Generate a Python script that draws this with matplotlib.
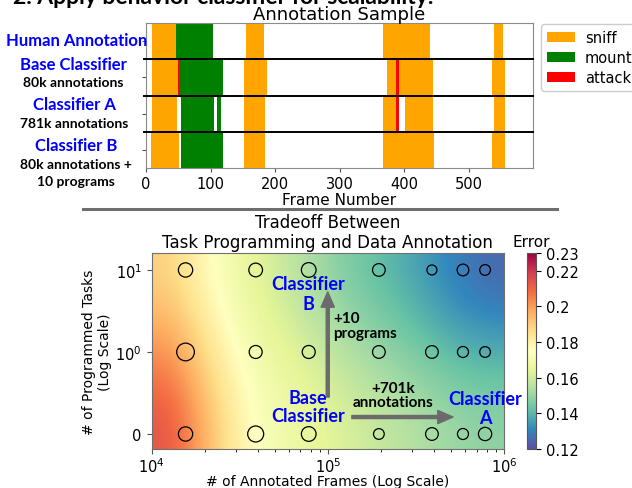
import numpy as np
import matplotlib
matplotlib.use('Agg')
import matplotlib.pyplot as plt
from matplotlib.patches import Patch
from matplotlib.lines import Line2D
from matplotlib.ticker import FormatStrFormatter, NullLocator, FixedLocator

W, H, DPI = 632, 489, 100

# ---- annotation sample: (start frame, end frame, behavior) per row ----
human_segs = [(10, 47, 'sniff'), (47, 104, 'mount'), (155, 183, 'sniff'),
              (367, 440, 'sniff'), (540, 553, 'sniff')]
base_segs = [(9, 49, 'sniff'), (49, 52, 'attack'), (52, 119, 'mount'),
             (152, 187, 'sniff'), (374, 388, 'sniff'), (388, 393, 'attack'),
             (393, 445, 'sniff'), (536, 557, 'sniff')]
clf_a_segs = [(9, 48, 'sniff'), (54, 105, 'mount'), (110, 116, 'mount'),
              (152, 185, 'sniff'), (368, 387, 'sniff'), (387, 392, 'attack'),
              (401, 445, 'sniff'), (540, 556, 'sniff')]
clf_b_segs = [(8, 51, 'sniff'), (55, 120, 'mount'), (152, 185, 'sniff'),
              (368, 446, 'sniff'), (537, 556, 'sniff')]
behaviors = ['sniff', 'mount', 'attack']
behavior_colors = {'sniff': 'orange', 'mount': 'green', 'attack': 'red'}

# ---- tradeoff: runs at (annotated frames, programmed tasks) ----
n_frames = [15600, 39000, 78000, 195000, 390000, 585000, 781000]
n_programs = [10, 1, 0]
# relative spread of each run (circle size), rows follow n_programs
run_spread = [[14.3, 13.7, 14.7, 12.7, 10.0, 11.7, 10.7],
              [17.7, 13.0, 13.0, 12.7, 12.7, 11.0, 10.7],
              [14.3, 16.0, 14.7, 10.7, 12.7, 11.0, 13.3]]
# error surface, columns at log10(frames) = 4.1, 4.3, ..., 5.9 ; rows top->bottom
error_surface = [[.189, .177, .167, .160, .153, .146, .141, .136, .130, .125],
                 [.202, .187, .173, .166, .161, .155, .150, .145, .140, .138],
                 [.214, .196, .179, .170, .166, .162, .158, .155, .151, .149]]
err_ticks = [0.12, 0.14, 0.16, 0.18, 0.2, 0.22, 0.23]

BOLD = dict(family='Lato', fontweight='bold')


def fx(px):
    return px / W


def fy(py):
    return 1 - py / H


fig = plt.figure(figsize=(W / DPI, H / DPI), dpi=DPI)

fig.text(fx(13), fy(4), '2. Apply behavior classifier for scalability.',
         fontsize=16.5, va='baseline', **BOLD)

# ================= annotation sample =================
ax1 = fig.add_axes([fx(146), fy(169), (533 - 146) / W, (169 - 24) / H])
all_rows = [human_segs, base_segs, clf_a_segs, clf_b_segs]
for i, segs in enumerate(all_rows):
    y0 = len(all_rows) - 1 - i
    for b in behaviors:
        spans = [(s, e - s) for s, e, lab in segs if lab == b]
        if spans:
            ax1.broken_barh(spans, (y0, 1), facecolors=behavior_colors[b], lw=0)
for yb in [1, 2, 3]:
    ax1.plot([-3, 600], [yb, yb], color='black', lw=1.4, clip_on=False, zorder=3)

ax1.set_xlim(0, 600)
ax1.set_ylim(0, 4)
ax1.set_xticks([0, 100, 200, 300, 400, 500])
ax1.set_yticks([0.5, 1.5, 2.5, 3.5])
ax1.set_yticklabels([])
ax1.tick_params(labelsize=10.5, length=3, pad=2.5, color='#555555')
for sp in ax1.spines.values():
    sp.set_color('#8a8a8a')
ax1.set_title('Annotation Sample', fontsize=13, pad=3)
ax1.set_xlabel('Frame Number', fontsize=11, labelpad=1)

handles = [Patch(facecolor=behavior_colors[b], label=b) for b in behaviors]
fig.legend(handles=handles, loc='upper left', bbox_to_anchor=(fx(541), fy(25)),
           bbox_transform=fig.transFigure, borderaxespad=0, fontsize=10.5,
           labelspacing=0.35, handlelength=1.9, handletextpad=0.7,
           framealpha=1, edgecolor='#cccccc')

# row labels
fig.text(fx(77), fy(41), 'Human Annotation', color='blue', fontsize=12,
         ha='center', va='center', **BOLD)
fig.text(fx(73), fy(65), 'Base Classifier', color='blue', fontsize=12,
         ha='center', va='center', **BOLD)
fig.text(fx(73), fy(83), '80k annotations', color='black', fontsize=10,
         ha='center', va='center', **BOLD)
fig.text(fx(74), fy(105), 'Classifier A', color='blue', fontsize=12,
         ha='center', va='center', **BOLD)
fig.text(fx(74), fy(124), '781k annotations', color='black', fontsize=10,
         ha='center', va='center', **BOLD)
fig.text(fx(76), fy(146), 'Classifier B', color='blue', fontsize=12,
         ha='center', va='center', **BOLD)
fig.text(fx(76), fy(165), '80k annotations +', color='black', fontsize=10,
         ha='center', va='center', **BOLD)
fig.text(fx(76), fy(182), '10 programs', color='black', fontsize=10,
         ha='center', va='center', **BOLD)

# separator
fig.add_artist(Line2D([fx(83), fx(557)], [fy(210), fy(210)],
                      color='#6e6e6e', lw=2.2))

# ================= tradeoff =================
ax2 = fig.add_axes([fx(151.5), fy(450), (504 - 151.5) / W, (450 - 254) / H])
im = ax2.imshow(np.array(error_surface), extent=(0, 1, 0, 1),
                transform=ax2.transAxes, aspect='auto', interpolation='bicubic',
                cmap='Spectral_r', vmin=0.12, vmax=0.23, zorder=0)

ax2.set_xscale('log')
ax2.set_yscale('symlog', linthresh=1, linscale=0.9)
ax2.set_xlim(1e4, 1e6)
ax2.set_ylim(-0.183, 16.1)
ax2.yaxis.set_major_locator(FixedLocator([0, 1, 10]))
ax2.yaxis.set_minor_locator(NullLocator())

fx_grid, fy_grid = np.meshgrid(n_frames, n_programs)
sizes = (np.array(run_spread) * 72 / DPI) ** 2
ax2.scatter(fx_grid.ravel(), fy_grid.ravel(), s=sizes.ravel(),
            facecolors='none', edgecolors='black', linewidths=0.9, zorder=3)

arrow_kw = dict(arrowstyle='simple,head_length=1.1,head_width=0.95,tail_width=0.22',
                color='#6b6b6b', shrinkA=0, shrinkB=0, mutation_scale=10)
ax2.annotate('', xy=(1e5, 5.4), xytext=(1e5, 0.45), arrowprops=arrow_kw, zorder=4)
ax2.annotate('', xy=(5.14e5, 0.207), xytext=(1.37e5, 0.207), arrowprops=arrow_kw, zorder=4)

ax2.text(7.75e4, 5.2, 'Classifier\nB', color='blue', fontsize=13, ha='center',
         va='center', zorder=5, **BOLD)
ax2.text(7.7e4, 0.335, 'Base\nClassifier', color='blue', fontsize=13, ha='center',
         va='center', linespacing=1.1, zorder=5, **BOLD)
ax2.text(7.8e5, 0.317, 'Classifier\nA', color='blue', fontsize=13, ha='center',
         va='center', linespacing=1.1, zorder=5, **BOLD)
ax2.text(1.07e5, 2.1, '+10\nprograms', color='black', fontsize=11, ha='left',
         va='center', linespacing=1.05, zorder=5, **BOLD)
ax2.text(2.35e5, 0.476, '+701k\nannotations', color='black', fontsize=11,
         ha='center', va='center', linespacing=1.0, zorder=5, **BOLD)

ax2.tick_params(labelsize=10.5, color='#555555')
ax2.tick_params(axis='x', pad=1.5)
for sp in ax2.spines.values():
    sp.set_color('#707070')
ax2.set_title('Tradeoff Between\nTask Programming and Data Annotation',
              fontsize=12, pad=4)
ax2.set_xlabel('# of Annotated Frames (Log Scale)', fontsize=10, labelpad=-0.5)
ax2.set_ylabel('# of Programmed Tasks\n(Log Scale)', fontsize=10, labelpad=2)

cax = fig.add_axes([fx(527), fy(450), 9 / W, (450 - 254) / H])
cb = fig.colorbar(im, cax=cax, ticks=err_ticks)
cb.ax.yaxis.set_major_formatter(FormatStrFormatter('%g'))
cb.ax.tick_params(labelsize=10.5)
cb.outline.set_edgecolor('#555555')
cax.set_title('Error', fontsize=11, pad=5)

fig.savefig('out.png', dpi=DPI)
